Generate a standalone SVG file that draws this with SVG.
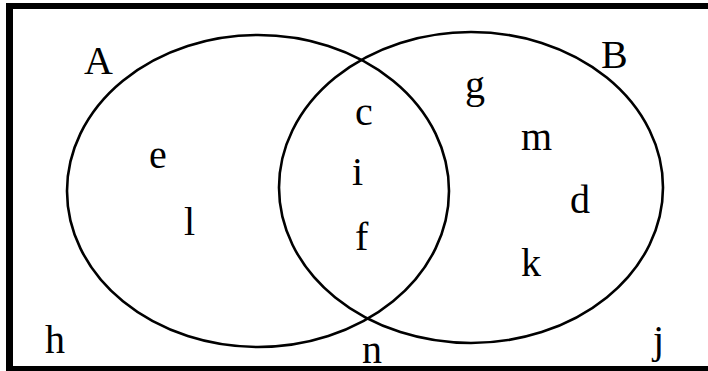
<svg xmlns="http://www.w3.org/2000/svg" width="708" height="371" viewBox="0 0 708 371">
<style>
.set{fill:none;stroke:#000;stroke-width:2.6}
.frame{fill:#000}
.lbl{font-family:"Liberation Serif","Times New Roman",serif;font-size:40px;fill:#000}
</style>
<rect x="0" y="0" width="708" height="371" fill="#fff"/>
<g id="frame">
<rect class="frame" x="6" y="3" width="702" height="6"/>
<rect class="frame" x="6" y="3" width="7" height="368"/>
<rect class="frame" x="6" y="366" width="702" height="5"/>
</g>
<g id="connectors"></g>
<g id="setA">
<ellipse class="set" cx="258" cy="191" rx="191" ry="156"/>
<text class="lbl" x="84" y="74">A</text>
</g>
<g id="setB">
<ellipse class="set" cx="471" cy="187.5" rx="192" ry="155.5"/>
<text class="lbl" x="601" y="68">B</text>
</g>
<g id="elements">
<text class="lbl" x="465" y="98">g</text>
<text class="lbl" x="355" y="125">c</text>
<text class="lbl" x="521" y="150">m</text>
<text class="lbl" x="149" y="168">e</text>
<text class="lbl" x="352" y="185">i</text>
<text class="lbl" x="570" y="213">d</text>
<text class="lbl" x="184" y="235">l</text>
<text class="lbl" x="355" y="250">f</text>
<text class="lbl" x="521" y="276">k</text>
<text class="lbl" x="45" y="353">h</text>
<text class="lbl" x="362" y="363">n</text>
<text class="lbl" x="653" y="353">j</text>
</g>
</svg>
